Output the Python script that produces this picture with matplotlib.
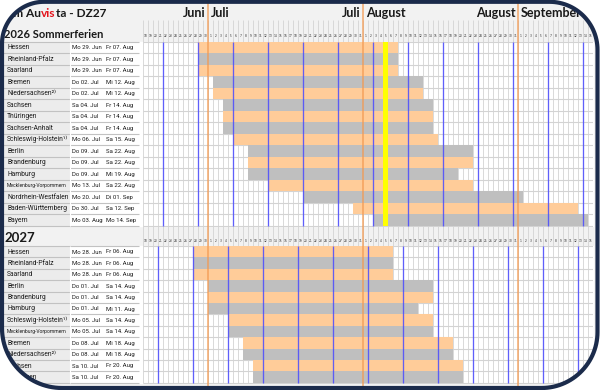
import datetime as dt
import numpy as np
import matplotlib
matplotlib.use("Agg")
import matplotlib.pyplot as plt
from matplotlib.path import Path
from matplotlib.patches import PathPatch, Rectangle

# ---------------- data ----------------
title_parts = ["Team Au", "vis", "ta - DZ27"]
title_colors = ["#1a1a1a", "#e3141c", "#1a1a1a"]
section_titles = ["2026 Sommerferien", "2027"]
years = [2026, 2027]

states_2026 = ["Hessen", "Rheinland-Pfalz", "Saarland", "Bremen", "Niedersachsen²⁾",
               "Sachsen", "Thüringen", "Sachsen-Anhalt", "Schleswig-Holstein¹⁾", "Berlin",
               "Brandenburg", "Hamburg", "Mecklenburg-Vorpommern", "Nordrhein-Westfalen",
               "Baden-Württemberg", "Bayern"]
start_2026 = ["06-29", "06-29", "06-29", "07-02", "07-02", "07-04", "07-04", "07-04",
              "07-06", "07-09", "07-09", "07-09", "07-13", "07-20", "07-30", "08-03"]
end_2026 = ["08-07", "08-07", "08-07", "08-12", "08-12", "08-14", "08-14", "08-14",
            "08-15", "08-22", "08-22", "08-19", "08-22", "09-01", "09-12", "09-14"]

states_2027 = ["Hessen", "Rheinland-Pfalz", "Saarland", "Berlin", "Brandenburg", "Hamburg",
               "Schleswig-Holstein¹⁾", "Mecklenburg-Vorpommern", "Bremen", "Niedersachsen²⁾",
               "Sachsen", "Thüringen"]
start_2027 = ["06-28", "06-28", "06-28", "07-01", "07-01", "07-01", "07-05", "07-05",
              "07-08", "07-08", "07-10", "07-10"]
end_2027 = ["08-06", "08-06", "08-06", "08-14", "08-14", "08-11", "08-14", "08-14",
            "08-18", "08-18", "08-20", "08-20"]

today = "2026-08-05"
first_day = "06-18"
n_days = 90
month_names = {6: "Juni", 7: "Juli", 8: "August", 9: "September"}
weekday_abbr = ["Mo", "Di", "Mi", "Do", "Fr", "Sa", "So"]
month_abbr = {6: "Jun", 7: "Jul", 8: "Aug", 9: "Sep"}

# ---------------- layout (pixels) ----------------
W, H = 600, 390
GX0, DAYW = 143, 5.0
TOP_BAND = (3, 20)
HDR26 = (20, 41.5)
R26_TOP, RH26 = 41.5, 11.5
R27_TOP, RH27 = 246.0, 11.4
HDR27 = (R26_TOP + RH26 * len(states_2026), R27_TOP)
R27_BOT = R27_TOP + RH27 * len(states_2027)
TABLE_X0, NAME_X1, TABLE_X1 = 3, 70, 139

ORANGE_BAR = "#ffcc99"
GREY_BAR = "#bfbfbf"
BLUE = "#4a4aff"
MONTH_LINE = "#f39a52"
TEXT = "#1a1a1a"
NARROW = ["Roboto", "DejaVu Sans"]
BOLD = ["Lato", "DejaVu Sans"]


def d(year, md):
    m, dd = md.split("-")
    return dt.date(year, int(m), int(dd))


def day_idx(year, date):
    return (date - d(year, first_day)).days


def fmt(date):
    return f"{weekday_abbr[date.weekday()]} {date.day:02d}. {month_abbr[date.month]}"


fig = plt.figure(figsize=(6, 3.9), dpi=100)
fig.patch.set_facecolor("white")

bg = fig.add_axes([0, 0, 1, 1])
bg.set_xlim(0, W)
bg.set_ylim(H, 0)
bg.axis("off")
bg.add_patch(Rectangle((0, 0), W, H, color="#f2f2f2", zorder=0))

sections = [
    (2026, states_2026, start_2026, end_2026, R26_TOP, RH26, HDR26, section_titles[0], 8.0),
    (2027, states_2027, start_2027, end_2027, R27_TOP, RH27, HDR27, section_titles[1], 9.5),
]

gx = fig.add_axes([GX0 / W, 0, n_days * DAYW / W, 1])
gx.set_xlim(0, n_days)
gx.set_ylim(H, 0)
gx.axis("off")
gx.patch.set_alpha(0)
gx.set_zorder(2)

gx.vlines(np.arange(n_days + 1), HDR26[0], R27_BOT, color="#d3d3d3", lw=0.6, zorder=1)

for si, (year, states, starts, ends, rtop, rh, hdr, stitle, tfs) in enumerate(sections):
    n = len(states)
    tops = rtop + rh * np.arange(n)
    centers = tops + rh / 2
    rbot = rtop + rh * n
    bg.add_patch(Rectangle((GX0 - 4, rtop), n_days * DAYW + 4, rh * n, color="white", zorder=1))
    for t in tops:
        bg.add_patch(Rectangle((TABLE_X0, t), NAME_X1 - TABLE_X0, rh, fc="#ececec", ec="none", zorder=1))
        bg.add_patch(Rectangle((NAME_X1, t), TABLE_X1 - NAME_X1, rh, fc="white", ec="none", zorder=1))
    bg.hlines(np.append(tops, rbot), TABLE_X0, TABLE_X1, color="#c2c2c2", lw=0.8, zorder=2)
    bg.vlines([NAME_X1], rtop, rbot, color="white", lw=0.8, zorder=2)
    bg.text(4, hdr[1] - 4, stitle, fontsize=tfs, fontweight="bold",
            family=BOLD, color=TEXT, va="baseline", ha="left", zorder=3)
    sd = [d(year, s) for s in starts]
    ed = [d(year, e) for e in ends]
    for name, c, a, b in zip(states, centers, sd, ed):
        fs = 3.6 if name.startswith("Meck") else 4.9
        bg.text(7, c + 0.3, name, fontsize=fs, family=NARROW, color=TEXT, va="center", ha="left", zorder=3)
        bg.text(72, c + 0.3, fmt(a), fontsize=4.3, family=NARROW, color=TEXT, va="center", ha="left", zorder=3)
        bg.text(106, c + 0.3, fmt(b), fontsize=4.3, family=NARROW, color=TEXT, va="center", ha="left", zorder=3)

    gx.hlines(np.append(tops, rbot), 0, n_days, color="#d3d3d3", lw=0.8, zorder=1)
    left = np.array([day_idx(year, a) for a in sd])
    width = np.array([day_idx(year, b) + 1 for b in ed]) - left
    colors = [ORANGE_BAR if i % 2 == 0 else GREY_BAR for i in range(n)]
    gx.barh(centers, width, left=left, height=rh, color=colors, zorder=2)

    first = d(year, first_day)
    mondays = [i for i in range(n_days) if (first + dt.timedelta(days=i)).weekday() == 0]
    gx.vlines(mondays, rtop, rbot, color=BLUE, lw=0.95, alpha=0.85, zorder=4)

    ylab = hdr[1] - 5.5
    for i in range(n_days):
        gx.text(i + 0.5, ylab, str((first + dt.timedelta(days=i)).day), fontsize=2.1,
                ha="center", va="center", color="#222222", zorder=3)

ti = day_idx(2026, dt.date.fromisoformat(today))
gx.bar(ti, RH26 * len(states_2026), bottom=R26_TOP, width=1, align="edge", color="#ffff00", zorder=3)

first = d(2026, first_day)
bounds = [i for i in range(1, n_days) if (first + dt.timedelta(days=i)).day == 1]
gx.vlines(bounds, TOP_BAND[0], H, color=MONTH_LINE, lw=1.1, alpha=0.85, zorder=5)
for b in bounds:
    prev_m = (first + dt.timedelta(days=b - 1)).month
    next_m = (first + dt.timedelta(days=b)).month
    gx.text(b - 0.5, 17, month_names[prev_m], fontsize=9, fontweight="bold", family=BOLD,
            ha="right", va="baseline", color=TEXT, zorder=6)
    gx.text(b + 0.6, 17, month_names[next_m], fontsize=9, fontweight="bold", family=BOLD,
            ha="left", va="baseline", color=TEXT, zorder=6)

t = bg.text(-6, 17, title_parts[0], fontsize=8.6, fontweight="bold", family=BOLD,
            color=title_colors[0], va="baseline", ha="left", zorder=3)
for part, col in zip(title_parts[1:], title_colors[1:]):
    t = bg.annotate(part, xy=(1, 0), xycoords=t, va="bottom", ha="left", fontsize=8.6,
                    fontweight="bold", family=BOLD, color=col, zorder=3)

ov = fig.add_axes([0, 0, 1, 1])
ov.set_xlim(0, W)
ov.set_ylim(H, 0)
ov.axis("off")
ov.patch.set_alpha(0)
ov.set_zorder(10)


def rounded(x0, y0, x1, y1, radii, n=30):
    r_tr, r_br, r_bl, r_tl = radii
    pts = []
    for cx, cy, a0, r in [(x1 - r_tr, y0 + r_tr, -90, r_tr), (x1 - r_br, y1 - r_br, 0, r_br),
                          (x0 + r_bl, y1 - r_bl, 90, r_bl), (x0 + r_tl, y0 + r_tl, 180, r_tl)]:
        ang = np.radians(np.linspace(a0, a0 + 90, n))
        pts += list(zip(cx + r * np.cos(ang), cy + r * np.sin(ang)))
    return np.array(pts)


inner = rounded(2, 1.8, 597.5, 388, (48, 56, 60, 42))
outer = np.array([(-10, -10), (W + 10, -10), (W + 10, H + 10), (-10, H + 10)])


def area(p):
    x, y = p[:, 0], p[:, 1]
    return 0.5 * np.sum(x * np.roll(y, -1) - np.roll(x, -1) * y)


inner_m = inner[::-1] if np.sign(area(inner)) == np.sign(area(outer)) else inner
verts = np.concatenate([outer, outer[:1], inner_m, inner_m[:1]])
codes = ([Path.MOVETO] + [Path.LINETO] * (len(outer) - 1) + [Path.CLOSEPOLY] +
         [Path.MOVETO] + [Path.LINETO] * (len(inner_m) - 1) + [Path.CLOSEPOLY])
ov.add_patch(PathPatch(Path(verts, codes), fc="white", ec="none", zorder=1))
ov.add_patch(PathPatch(Path(np.concatenate([inner, inner[:1]]), closed=True), fc="none",
                       ec="#1b2b4b", lw=3.0, zorder=2))

fig.savefig("out.png", dpi=100)
